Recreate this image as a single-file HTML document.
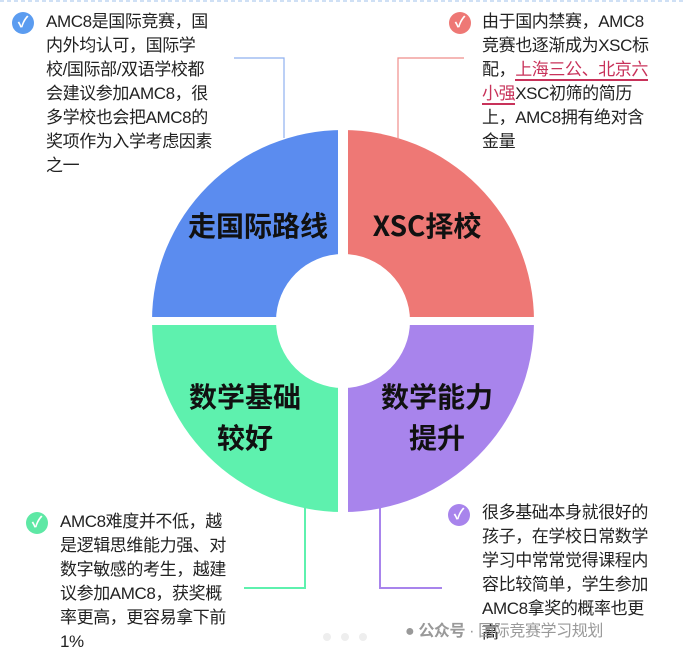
<!DOCTYPE html>
<html><head><meta charset="utf-8"><style>
body{margin:0;width:683px;height:658px;overflow:hidden;background:#fff;position:relative;font-family:"Liberation Sans","Noto Sans CJK SC",sans-serif;}
.t{position:absolute;font-size:17px;line-height:24px;color:#222;white-space:nowrap;letter-spacing:-0.4px}
.ic{position:absolute;width:22px;height:22px;border-radius:50%;color:#fff;font-size:15px;line-height:22px;text-align:center;font-weight:bold}
.lab{font-family:"Noto Sans CJK SC",sans-serif;font-weight:bold;font-size:28px;fill:#111}
</style></head><body>
<svg width="683" height="658" style="position:absolute;left:0;top:0">
<line x1="0" y1="1" x2="683" y2="1" stroke="#cfe0f5" stroke-width="2" stroke-dasharray="4,3"/>
<path d="M343 321 L152 321 A191 191 0 0 1 343 130 Z" fill="#5b8cef"/>
<path d="M343 321 L343 130 A191 191 0 0 1 534 321 Z" fill="#ee7875"/>
<path d="M343 321 L152 321 A191 191 0 0 0 343 512 Z" fill="#5ef1ae"/>
<path d="M343 321 L534 321 A191 191 0 0 1 343 512 Z" fill="#a884ec"/>
<rect x="338" y="120" width="10" height="400" fill="#fff"/>
<rect x="140" y="317" width="410" height="8" fill="#fff"/>
<circle cx="343" cy="321" r="67" fill="#fff"/>
<polyline points="234,58 284,58 284,138" fill="none" stroke="#8fb0ef" stroke-width="1.2"/>
<polyline points="464,58 398,58 398,140" fill="none" stroke="#ef8e8b" stroke-width="1.2"/>
<polyline points="305,508 305,588 244,588" fill="none" stroke="#5ef1ae" stroke-width="2"/>
<polyline points="380,508 380,588 442,588" fill="none" stroke="#a884ec" stroke-width="2"/>
<text class="lab" x="258" y="236" text-anchor="middle">走国际路线</text>
<text class="lab" x="427" y="236" text-anchor="middle">XSC择校</text>
<text class="lab" x="245" y="407" text-anchor="middle">数学基础</text>
<text class="lab" x="245" y="448" text-anchor="middle">较好</text>
<text class="lab" x="437" y="407" text-anchor="middle">数学能力</text>
<text class="lab" x="437" y="448" text-anchor="middle">提升</text>
<circle cx="327" cy="637" r="4" fill="#eee"/><circle cx="345" cy="637" r="4" fill="#eee"/><circle cx="363" cy="637" r="4" fill="#eee"/>
</svg>
<div class="ic" style="left:12px;top:12px;background:#5b9cf0">✓</div>
<div class="t" style="left:46px;top:10px">AMC8是国际竞赛，国<br>内外均认可，国际学<br>校/国际部/双语学校都<br>会建议参加AMC8，很<br>多学校也会把AMC8的<br>奖项作为入学考虑因素<br>之一</div>
<div class="ic" style="left:449px;top:12px;background:#ee7875">✓</div>
<div class="t" style="left:482px;top:10px">由于国内禁赛，AMC8<br>竞赛也逐渐成为XSC标<br>配，<span style="color:#c8325a;border-bottom:2px solid #c8325a">上海三公、北京六</span><br><span style="color:#c8325a;border-bottom:2px solid #c8325a">小强</span>XSC初筛的简历<br>上，AMC8拥有绝对含<br>金量</div>
<div class="ic" style="left:26px;top:512px;background:#5ee8a5">✓</div>
<div class="t" style="left:60px;top:510px">AMC8难度并不低，越<br>是逻辑思维能力强、对<br>数字敏感的考生，越建<br>议参加AMC8，获奖概<br>率更高，更容易拿下前<br>1%</div>
<div class="ic" style="left:448px;top:504px;background:#a884ec">✓</div>
<div class="t" style="left:482px;top:501px">很多基础本身就很好的<br>孩子，在学校日常数学<br>学习中常常觉得课程内<br>容比较简单，学生参加<br>AMC8拿奖的概率也更<br>高</div>
<div class="t" style="left:405px;top:620px;color:#999;font-size:16px">● <b>公众号</b> · 国际竞赛学习规划</div>
</body></html>
